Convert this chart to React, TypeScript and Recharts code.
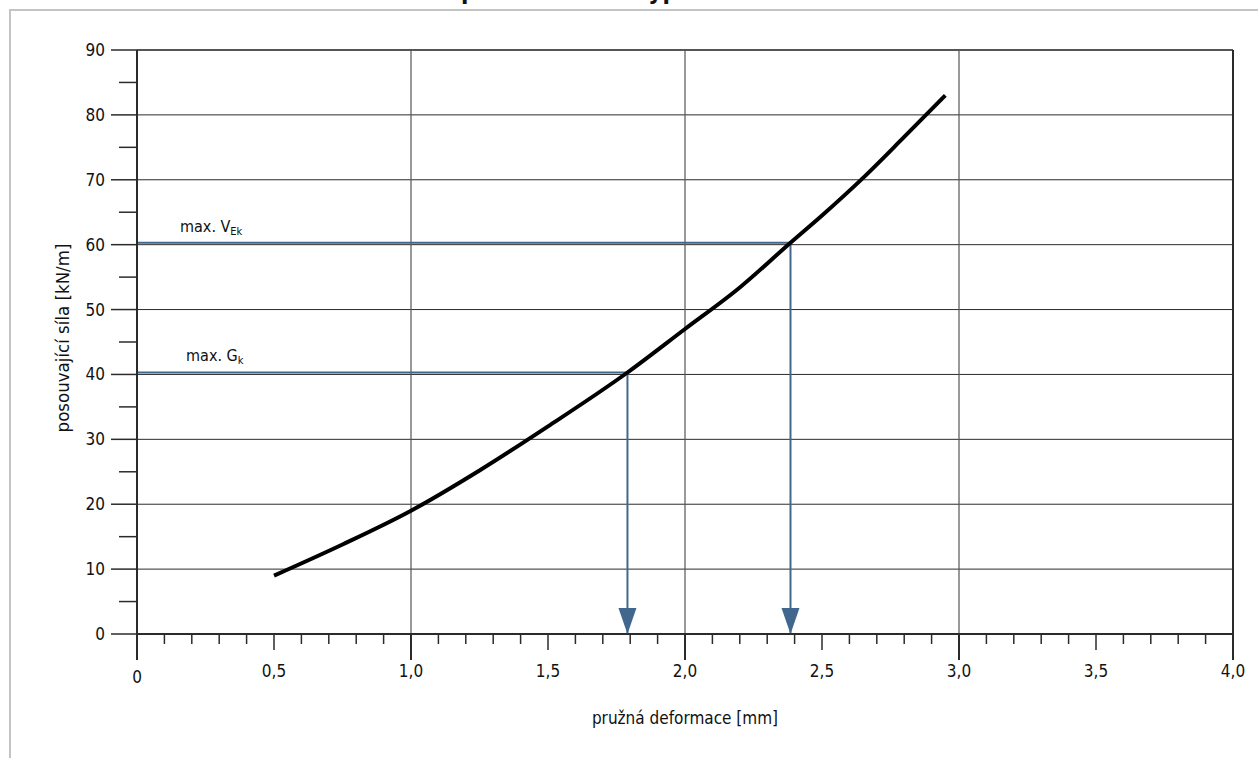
import React from "react";
import {
  ComposedChart,
  Line,
  Scatter,
  XAxis,
  YAxis,
  ReferenceLine,
} from "recharts";

// ---- data ----
const deformation = [0.5, 0.75, 1.0, 1.25, 1.5, 1.79, 2.0, 2.2, 2.385, 2.5, 2.65, 2.8, 2.95];
const force = [9, 13.8, 19, 25.2, 32, 40.3, 47, 53.4, 60.3, 64.5, 70.3, 76.6, 83];

const markerNames = ["max. V", "max. G"];
const markerSubs = ["Ek", "k"];
const markerForce = [60.3, 40.3];
const markerDeformation = [2.385, 1.79];
const labelDeformation = [0.157, 0.179];
const labelForce = [61.9, 42.0];

const xTickValues = [0, 0.5, 1.0, 1.5, 2.0, 2.5, 3.0, 3.5, 4.0];
const xTickLabels = ["0", "0,5", "1,0", "1,5", "2,0", "2,5", "3,0", "3,5", "4,0"];
const yTickValues = [0, 10, 20, 30, 40, 50, 60, 70, 80, 90];
const yTickLabels = ["0", "10", "20", "30", "40", "50", "60", "70", "80", "90"];
const verticalGrid = [1, 2, 3, 4];

const titleParts = ["Křivka", "pružnosti –", "typ"];
const xAxisTitle = "pružná deformace [mm]";
const yAxisTitle = "posouvající síla [kN/m]";

// minor ticks (every 0.1 on x, every 5 on y)
const xMinorTicks = Array.from({ length: 41 }, (_, i) => i / 10);
const yMinorTicks = Array.from({ length: 19 }, (_, i) => i * 5);

const curveData = deformation.map((x, i) => ({ x, y: force[i] }));
const markerLines = markerNames.map((_, i) => [
  { x: 0, y: markerForce[i] },
  { x: markerDeformation[i], y: markerForce[i] },
  { x: markerDeformation[i], y: 0 },
]);
const arrowData = markerDeformation.map((x) => ({ x, y: 0 }));
const labelData = markerNames.map((n, i) => ({
  x: labelDeformation[i],
  y: labelForce[i],
  name: n,
  sub: markerSubs[i],
}));

const FONT = "'DejaVu Sans Condensed', 'Liberation Sans Narrow', sans-serif";
const BLUE = "#42678f";
const DARK = "#2b2b2b";

const XTick = (props: any) => {
  const { x, y, payload } = props;
  const v = payload.value as number;
  const i = Math.round(v * 10);
  const len = i % 10 === 0 ? 26 : i % 5 === 0 ? 16 : 10;
  const idx = xTickValues.findIndex((t) => Math.abs(t - v) < 1e-6);
  return (
    <g>
      <line x1={x} x2={x} y1={y} y2={y + len} stroke={DARK} strokeWidth={i % 10 === 0 ? 2 : 1.5} />
      {idx >= 0 && (
        <text
          x={x}
          y={y + (i === 0 ? 43 : 37)}
          textAnchor="middle"
          dominantBaseline="central"
          fontFamily={FONT}
          fontSize={17}
          fill="#111"
        >
          {xTickLabels[idx]}
        </text>
      )}
    </g>
  );
};

const YTick = (props: any) => {
  const { x, y, payload } = props;
  const v = payload.value as number;
  const major = Math.round(v) % 10 === 0;
  const len = major ? 26 : 18;
  const idx = yTickValues.findIndex((t) => Math.abs(t - v) < 1e-6);
  return (
    <g>
      <line x1={x - len} x2={x} y1={y} y2={y} stroke={DARK} strokeWidth={1.5} />
      {idx >= 0 && (
        <text
          x={x - 32}
          y={y}
          textAnchor="end"
          dominantBaseline="central"
          fontFamily={FONT}
          fontSize={17}
          fill="#111"
        >
          {yTickLabels[idx]}
        </text>
      )}
    </g>
  );
};

const Arrow = (props: any) => {
  const { cx, cy } = props;
  return (
    <path
      d={`M ${cx - 9} ${cy - 26} L ${cx + 9} ${cy - 26} L ${cx} ${cy} Z`}
      fill={BLUE}
      stroke="none"
    />
  );
};

const MarkerLabel = (props: any) => {
  const { cx, cy, payload } = props;
  return (
    <text x={cx} y={cy} fontFamily={FONT} fontSize={16} fill="#111">
      {payload.name}
      <tspan fontSize={11} dy={3}>
        {payload.sub}
      </tspan>
    </text>
  );
};

export default function App() {
  return (
    <div style={{ position: "absolute", left: 0, top: 0, width: 1258, height: 758, overflow: "hidden", background: "#fff" }}>
      <div
        style={{
          position: "absolute",
          left: 9,
          top: 9,
          width: 1249,
          height: 749,
          borderTop: "2px solid #c4c4c4",
          borderLeft: "2px solid #c4c4c4",
          boxSizing: "border-box",
        }}
      />
      <svg style={{ position: "absolute", left: 0, top: -30 }} width={1258} height={40}>
        <text y={28.5} fontFamily={FONT} fontWeight="bold" fontSize={24} fill="#111">
          <tspan x={360}>{titleParts[0]}</tspan>
          <tspan x={461}>{titleParts[1]}</tspan>
          <tspan x={638}>{titleParts[2]}</tspan>
        </text>
      </svg>
      <div style={{ position: "absolute", left: 0, top: 0 }}>
        <ComposedChart
          width={1258}
          height={758}
          margin={{ top: 50, right: 25, bottom: 24, left: 37 }}
        >
          <XAxis
            dataKey="x"
            type="number"
            domain={[0, 4]}
            ticks={xMinorTicks}
            interval={0}
            tickSize={0}
            tickMargin={0}
            tickLine={false}
            tick={<XTick />}
            height={100}
            axisLine={{ stroke: DARK, strokeWidth: 2 }}
            allowDataOverflow
            label={{
              content: (p: any) => {
                const vb = p.viewBox;
                return (
                  <text
                    x={vb.x + vb.width / 2}
                    y={718}
                    textAnchor="middle"
                    dominantBaseline="central"
                    fontFamily={FONT}
                    fontSize={17}
                    fill="#111"
                  >
                    {xAxisTitle}
                  </text>
                );
              },
            }}
          />
          <YAxis
            dataKey="y"
            type="number"
            domain={[0, 90]}
            ticks={yMinorTicks}
            interval={0}
            tickSize={0}
            tickMargin={0}
            tickLine={false}
            tick={<YTick />}
            width={100}
            axisLine={{ stroke: DARK, strokeWidth: 2 }}
            allowDataOverflow
            label={{
              content: (p: any) => {
                const vb = p.viewBox;
                const cx = 62;
                const cy = vb.y + vb.height / 2 - 4;
                return (
                  <text
                    x={cx}
                    y={cy}
                    transform={`rotate(-90, ${cx}, ${cy})`}
                    textAnchor="middle"
                    dominantBaseline="central"
                    fontFamily={FONT}
                    fontSize={18.5}
                    fill="#111"
                  >
                    {yAxisTitle}
                  </text>
                );
              },
            }}
          />
          {yTickValues
            .filter((v) => v > 0)
            .map((v) => (
              <ReferenceLine key={"h" + v} y={v} stroke={v === 90 ? "#555" : DARK} strokeWidth={v === 90 ? 2 : 1} />
            ))}
          {verticalGrid.map((v) => (
            <ReferenceLine key={"v" + v} x={v} stroke={v === 4 ? DARK : "#555"} strokeWidth={v === 4 ? 2 : 1.2} />
          ))}
          {markerLines.map((d, i) => (
            <Line
              key={"m" + i}
              data={d}
              dataKey="y"
              type="linear"
              stroke={BLUE}
              strokeWidth={2}
              dot={false}
              activeDot={false}
              isAnimationActive={false}
            />
          ))}
          <Line
            data={curveData}
            dataKey="y"
            type="monotone"
            stroke="#000"
            strokeWidth={4}
            dot={false}
            activeDot={false}
            isAnimationActive={false}
          />
          <Scatter data={arrowData} dataKey="y" shape={<Arrow />} isAnimationActive={false} />
          <Scatter data={labelData} dataKey="y" shape={<MarkerLabel />} isAnimationActive={false} />
        </ComposedChart>
      </div>
    </div>
  );
}
